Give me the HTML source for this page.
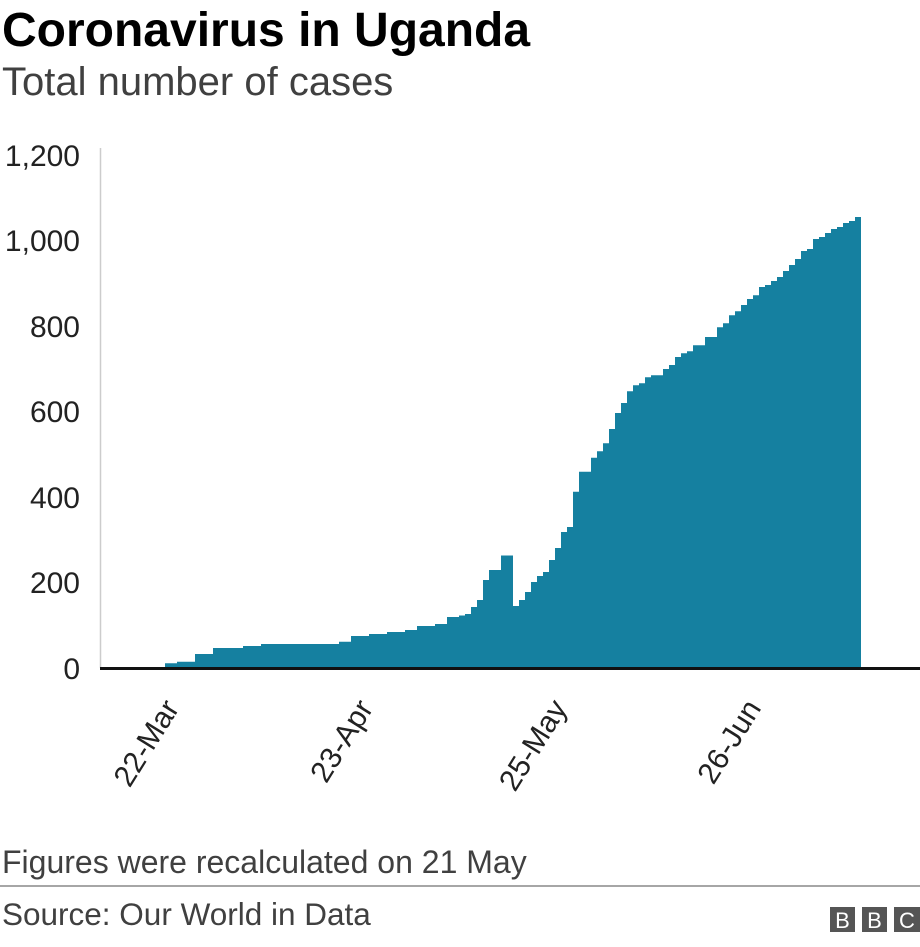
<!DOCTYPE html>
<html><head><meta charset="utf-8"><style>
body{margin:0;background:#fff;width:920px;height:942px;overflow:hidden;font-family:"Liberation Sans",Arial,sans-serif;}
</style></head><body>
<svg width="920" height="942" xmlns="http://www.w3.org/2000/svg" font-family="Liberation Sans, Arial, sans-serif">
<text x="2" y="46" font-size="48" font-weight="bold" fill="#000">Coronavirus in Uganda</text>
<text x="2" y="95" font-size="40" fill="#404040">Total number of cases</text>
<g font-size="30" fill="#222" text-anchor="end">
<text x="80" y="166">1,200</text>
<text x="80" y="251">1,000</text>
<text x="80" y="337">800</text>
<text x="80" y="422">600</text>
<text x="80" y="508">400</text>
<text x="80" y="593">200</text>
<text x="80" y="679">0</text>
</g>
<line x1="100.5" y1="148" x2="100.5" y2="668" stroke="#ccc" stroke-width="1.5"/>
<path fill="#1580a0" d="M165,668 V663.3 H177 V661.7 H195 V654 H213 V648 H243 V646 H261 V644 H339 V641.7 H351 V636 H369 V634 H387 V632 H405 V630 H417 V626 H435 V624 H447 V617 H459 V615.5 H465 V614 H471 V607 H477 V600 H483 V580 H489 V570 H501 V555.5 H513 V606 H519 V600 H525 V592 H531 V582 H537 V576 H543 V572 H549 V560 H555 V548 H561 V532 H567 V527 H573 V491.7 H579 V471.7 H591 V457.7 H597 V451.3 H603 V443.3 H609 V429 H615 V413 H621 V403 H627 V391.3 H633 V385.3 H639 V383.3 H645 V377.3 H651 V375.3 H663 V369 H669 V365 H675 V357 H681 V353.3 H687 V351.3 H693 V345.3 H705 V337 H717 V327.3 H723 V323.3 H729 V315.3 H735 V311.3 H741 V305 H747 V299 H753 V295.3 H759 V287 H765 V285 H771 V281 H777 V277 H783 V271 H789 V265 H795 V259 H801 V251 H807 V249 H813 V239 H819 V237 H825 V233 H831 V229 H837 V227 H843 V223 H849 V221 H855 V217 H861 V668 Z"/>
<line x1="100" y1="668.5" x2="920" y2="668.5" stroke="#111" stroke-width="3"/>
<g font-size="30" fill="#222" text-anchor="end">
<text transform="translate(180,708) rotate(-58)">22-Mar</text>
<text transform="translate(374,708) rotate(-58)">23-Apr</text>
<text transform="translate(568,708) rotate(-58)">25-May</text>
<text transform="translate(762,708) rotate(-58)">26-Jun</text>
</g>
<text x="2" y="873" font-size="32" fill="#404040">Figures were recalculated on 21 May</text>
<line x1="0" y1="886" x2="920" y2="886" stroke="#888" stroke-width="1.5"/>
<text x="2" y="925" font-size="31.5" fill="#404040">Source: Our World in Data</text>
<g fill="#555"><rect x="830" y="907" width="25" height="25"/><rect x="862" y="907" width="25" height="25"/><rect x="894" y="907" width="26" height="25"/></g>
<g fill="#fff" font-size="22" text-anchor="middle"><text x="842.5" y="928">B</text><text x="874.5" y="928">B</text><text x="907" y="928">C</text></g>
</svg>
</body></html>
